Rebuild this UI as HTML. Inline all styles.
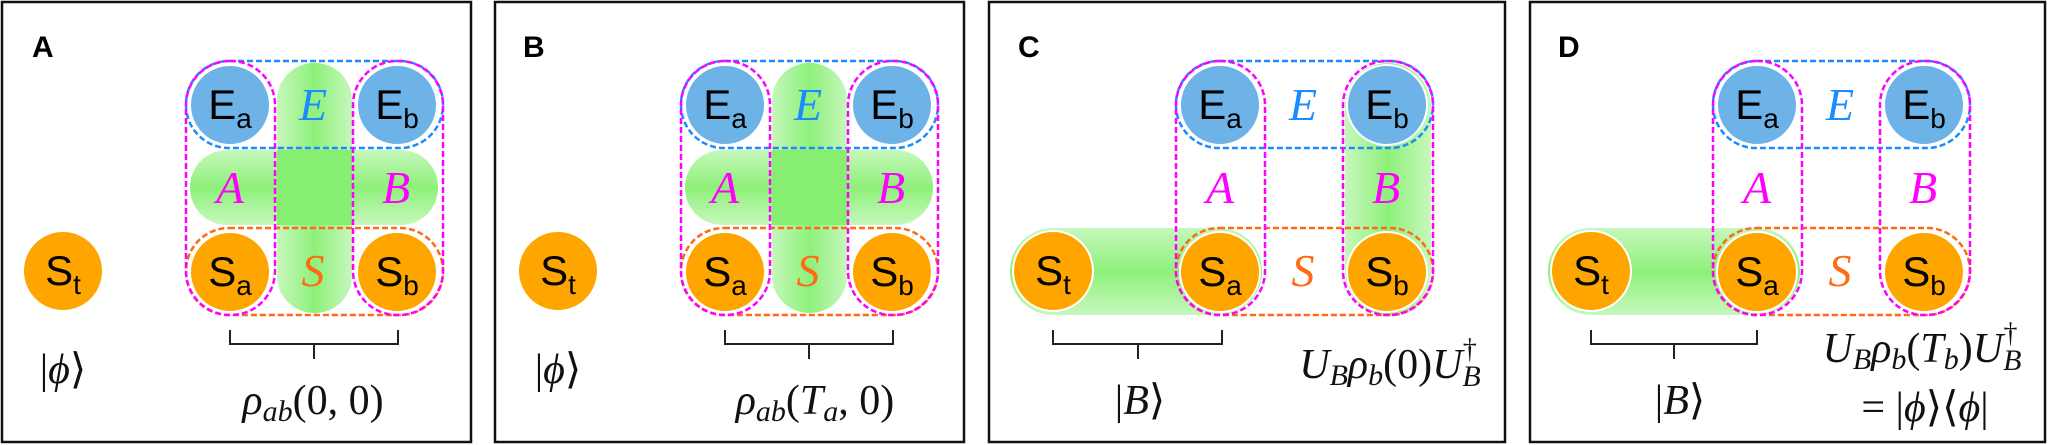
<!DOCTYPE html>
<html><head><meta charset="utf-8"><style>
html,body{margin:0;padding:0;background:#fff;}
svg{display:block;}
.lbl{font-family:"Liberation Sans",Arial,sans-serif;font-weight:bold;font-size:30px;fill:#000;}
.ct{font-family:"Liberation Sans",Arial,sans-serif;font-size:42px;fill:#000;}
.m{font-family:"Liberation Serif",serif;font-size:42px;fill:#111;}
.cal{font-family:"Liberation Serif",serif;font-style:italic;font-size:46px;}
</style></head><body>
<svg width="2048" height="445" viewBox="0 0 2048 445" xmlns="http://www.w3.org/2000/svg">
<defs>
<linearGradient id="gv" x1="0" y1="0" x2="1" y2="0">
<stop offset="0" stop-color="#c6f8bc"/><stop offset="0.5" stop-color="#8ef07a"/><stop offset="1" stop-color="#c6f8bc"/></linearGradient>
<linearGradient id="gh" x1="0" y1="0" x2="0" y2="1">
<stop offset="0" stop-color="#c6f8bc"/><stop offset="0.5" stop-color="#8ef07a"/><stop offset="1" stop-color="#c6f8bc"/></linearGradient>
<g id="circles">
<circle cx="230" cy="105" r="40" fill="#6db3e8" stroke="#fff" stroke-width="2"/>
<circle cx="397" cy="105" r="40" fill="#6db3e8" stroke="#fff" stroke-width="2"/>
<circle cx="230" cy="272" r="40" fill="#ffa500" stroke="#fff" stroke-width="2"/>
<circle cx="397" cy="272" r="40" fill="#ffa500" stroke="#fff" stroke-width="2"/>
<text class="ct" x="230" y="119" text-anchor="middle">E<tspan font-size="28" dy="9">a</tspan></text>
<text class="ct" x="397" y="119" text-anchor="middle">E<tspan font-size="28" dy="9">b</tspan></text>
<text class="ct" x="230" y="286" text-anchor="middle">S<tspan font-size="28" dy="9">a</tspan></text>
<text class="ct" x="397" y="286" text-anchor="middle">S<tspan font-size="28" dy="9">b</tspan></text>
<text class="cal" x="313" y="120" text-anchor="middle" fill="#1a8cff">E</text>
<text class="cal" x="230" y="203" text-anchor="middle" fill="#ff00ff">A</text>
<text class="cal" x="396" y="203" text-anchor="middle" fill="#ff00ff">B</text>
<text class="cal" x="313" y="286" text-anchor="middle" fill="#ff6a13">S</text>
</g>
<g id="dash" fill="none" stroke-width="2.5" stroke-dasharray="6,3">
<rect x="186" y="61" width="257" height="87" rx="43" stroke="#1a8cff"/>
<rect x="186" y="228" width="257" height="87" rx="43" stroke="#ff6a13"/>
<rect x="186" y="61" width="89" height="254" rx="44" stroke="#ff00ff"/>
<rect x="353" y="61" width="90" height="254" rx="44" stroke="#ff00ff"/>
</g>
<g id="cross">
<rect x="190" y="150" width="248" height="75" rx="37" fill="url(#gh)"/>
<rect x="277" y="63" width="75" height="250" rx="37" fill="url(#gv)"/>
<rect x="277" y="150" width="75" height="75" fill="#86ee70"/>
</g>
<g id="st">
<circle cx="0" cy="0" r="40" fill="#ffa500" stroke="#fff" stroke-width="2"/>
<text class="ct" x="0" y="14" text-anchor="middle">S<tspan font-size="28" dy="9">t</tspan></text>
</g>
</defs>
<g fill="none" stroke="#111" stroke-width="2.5">
<rect x="2" y="2" width="469" height="440"/>
<rect x="495" y="2" width="469" height="440"/>
<rect x="989" y="2" width="516" height="440"/>
<rect x="1530" y="2" width="515" height="440"/>
</g>
<text class="lbl" x="32" y="57">A</text>
<text class="lbl" x="523" y="57">B</text>
<text class="lbl" x="1018" y="57">C</text>
<text class="lbl" x="1558" y="57">D</text>

<!-- Panel A -->
<use href="#cross"/><use href="#circles"/><use href="#dash"/>
<use href="#st" x="63" y="271"/>
<text class="m" x="63" y="383" text-anchor="middle">|<tspan font-style="italic">ϕ</tspan>⟩</text>
<path d="M230 330V344H398V330M314 344V359" fill="none" stroke="#222" stroke-width="2"/>
<text class="m" x="313" y="414" text-anchor="middle"><tspan font-style="italic">ρ</tspan><tspan font-style="italic" font-size="30" dy="7">ab</tspan><tspan dy="-7">(0, 0)</tspan></text>

<!-- Panel B -->
<g transform="translate(495,0)">
<use href="#cross"/><use href="#circles"/><use href="#dash"/>
<use href="#st" x="63" y="271"/>
<text class="m" x="63" y="383" text-anchor="middle">|<tspan font-style="italic">ϕ</tspan>⟩</text>
<path d="M230 330V344H398V330M314 344V359" fill="none" stroke="#222" stroke-width="2"/>
<text class="m" x="320" y="414" text-anchor="middle"><tspan font-style="italic">ρ</tspan><tspan font-style="italic" font-size="30" dy="7">ab</tspan><tspan dy="-7">(</tspan><tspan font-style="italic">T</tspan><tspan font-style="italic" font-size="30" dy="7">a</tspan><tspan dy="-7">, 0)</tspan></text>
</g>

<!-- Panel C -->
<rect x="1010" y="228" width="252" height="87" rx="43" fill="url(#gh)"/>
<g transform="translate(990,0)">
<rect x="355" y="63" width="86" height="252" rx="43" fill="url(#gv)"/>
<use href="#circles"/><use href="#dash"/>
</g>
<use href="#st" x="1053" y="271"/>
<path d="M1053 330V344H1222V330M1138 344V359" fill="none" stroke="#222" stroke-width="2"/>
<text class="m" x="1140" y="414" text-anchor="middle">|<tspan font-style="italic">B</tspan>⟩</text>
<text class="m" x="1390" y="378" text-anchor="middle"><tspan font-style="italic">U</tspan><tspan font-style="italic" font-size="30" dy="7">B</tspan><tspan font-style="italic" dy="-7">ρ</tspan><tspan font-style="italic" font-size="30" dy="7">b</tspan><tspan dy="-7">(0)</tspan><tspan font-style="italic">U</tspan><tspan font-style="italic" font-size="30" dy="8">B</tspan><tspan font-size="28" dx="-18" dy="-28">†</tspan></text>

<!-- Panel D -->
<rect x="1548" y="228" width="252" height="87" rx="43" fill="url(#gh)"/>
<g transform="translate(1527,0)">
<use href="#circles"/><use href="#dash"/>
</g>
<use href="#st" x="1591" y="271"/>
<path d="M1591 330V344H1757V330M1674 344V359" fill="none" stroke="#222" stroke-width="2"/>
<text class="m" x="1680" y="414" text-anchor="middle">|<tspan font-style="italic">B</tspan>⟩</text>
<text class="m" x="1922" y="362" text-anchor="middle"><tspan font-style="italic">U</tspan><tspan font-style="italic" font-size="30" dy="7">B</tspan><tspan font-style="italic" dy="-7">ρ</tspan><tspan font-style="italic" font-size="30" dy="7">b</tspan><tspan dy="-7">(</tspan><tspan font-style="italic">T</tspan><tspan font-style="italic" font-size="30" dy="7">b</tspan><tspan dy="-7">)</tspan><tspan font-style="italic">U</tspan><tspan font-style="italic" font-size="30" dy="8">B</tspan><tspan font-size="28" dx="-18" dy="-28">†</tspan></text>
<text class="m" x="1925" y="421" text-anchor="middle">= |<tspan font-style="italic">ϕ</tspan>⟩⟨<tspan font-style="italic">ϕ</tspan>|</text>
</svg>
</body></html>
